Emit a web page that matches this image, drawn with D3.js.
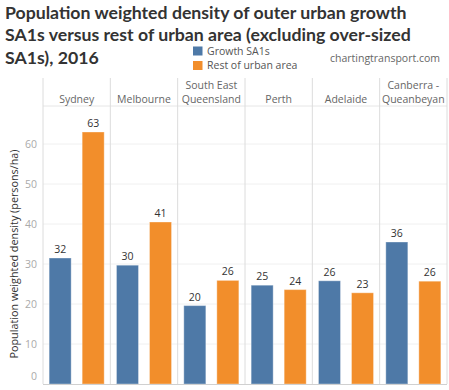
<!DOCTYPE html>
<html><head><meta charset="utf-8">
<script src="https://cdn.jsdelivr.net/npm/d3@7"></script>
<style>body{margin:0;background:#fff;} svg{display:block;}</style>
</head><body>
<svg id="c" width="449" height="390"></svg>
<script>
const titleLines = ["Population weighted density of outer urban growth", "SA1s versus rest of urban area (excluding over-sized", "SA1s), 2016"];
const cities = ["Sydney", "Melbourne", "South East\nQueensland", "Perth", "Adelaide", "Canberra -\nQueanbeyan"];
const seriesNames = ["Growth SA1s", "Rest of urban area"];
const growthValues = [31.5, 29.7, 19.6, 24.7, 25.8, 35.5];
const restValues = [63.0, 40.5, 25.9, 23.6, 22.8, 25.7];
const yTicks = [0, 10, 20, 30, 40, 50, 60];
const colors = ["#4e79a7", "#f28e2b"];
const yTitle = "Population weighted density (persons/ha)";
const source = "chartingtransport.com";

(function() {
const svg = d3.select("#c");
const font = "'Open Sans', sans-serif";
const fs = 10.5;
const pL = 43, pR = 447, pT = 106, pB = 384, headTop = 78;

const x0 = d3.scaleBand().domain(cities).range([pL, pR]).padding(0);
const x1 = d3.scaleBand().domain(seriesNames).range([0, x0.bandwidth()]).paddingInner(0.333).paddingOuter(0.186);
const y = d3.scaleLinear().domain([0, 69.5]).range([pB, pT]);

// title
const tt = svg.append("g").selectAll("text").data(titleLines).join("text")
  .attr("x", 5).attr("y", (d, i) => 18.8 + i * 22.6)
  .attr("font-family", "Lato, sans-serif").attr("font-weight", 700).attr("font-size", 18)
  .attr("fill", "#333").text(d => d);
const w0 = tt.nodes()[0].getComputedTextLength();
tt.attr("font-size", 18 * 402 / w0);

// legend
const lg = svg.append("g");
seriesNames.forEach((s, i) => {
  lg.append("rect").attr("x", 193).attr("y", 46.5 + i * 14.5).attr("width", 9.5).attr("height", 9).attr("fill", colors[i]);
  lg.append("text").attr("x", 207).attr("y", 51 + i * 14.5).attr("dy", "0.35em")
    .attr("font-family", font).attr("font-size", fs).attr("fill", "#555").text(s);
});
svg.append("text").attr("x", 440).attr("y", 58.5).attr("dy", "0.35em").attr("text-anchor", "end")
  .attr("font-family", font).attr("font-size", fs).attr("fill", "#666").text(source);

// gridlines
svg.append("g").selectAll("line").data(yTicks.filter(d => d > 0)).join("line")
  .attr("x1", pL).attr("x2", pR).attr("y1", d => y(d)).attr("y2", d => y(d))
  .attr("stroke", "#f0f0f0").attr("stroke-width", 1);

// header bottom line
svg.append("line").attr("x1", pL).attr("x2", pR).attr("y1", pT).attr("y2", pT).attr("stroke", "#e6e6e6");

// panel separators
const bounds = cities.map(c => x0(c)).concat([pR]);
svg.append("g").selectAll("line").data(bounds).join("line")
  .attr("x1", d => d).attr("x2", d => d).attr("y1", headTop).attr("y2", pB)
  .attr("stroke", "#dcdcdc").attr("stroke-width", 1);

// header labels
const hg = svg.append("g").selectAll("text").data(cities).join("text")
  .attr("x", d => x0(d) + x0.bandwidth() / 2).attr("text-anchor", "middle")
  .attr("font-family", font).attr("font-size", fs).attr("fill", "#666");
hg.each(function(d) {
  const lines = d.split("\n");
  const t = d3.select(this);
  lines.forEach((l, i) => {
    t.append("tspan").attr("x", x0(d) + x0.bandwidth() / 2)
      .attr("y", 99.5 - (lines.length - 1 - i) * 14.5).attr("dy", "0.35em").text(l);
  });
});

// y axis
const yAxis = d3.axisLeft(y).tickValues(yTicks).tickSize(0).tickPadding(6);
const ya = svg.append("g").attr("transform", `translate(${pL},0)`).call(yAxis);
ya.select(".domain").remove();
ya.selectAll("text").attr("font-family", font).attr("font-size", fs).attr("fill", "#aaa")
  .attr("y", d => d === 0 ? -8 : 0);

svg.append("text").attr("transform", "translate(14,254) rotate(-90)").attr("text-anchor", "middle")
  .attr("dy", "0.35em").attr("font-family", font).attr("font-size", 10.8).attr("fill", "#333").text(yTitle);

// bars
const data = [];
cities.forEach((c, i) => {
  data.push({city: c, s: seriesNames[0], v: growthValues[i], col: colors[0]});
  data.push({city: c, s: seriesNames[1], v: restValues[i], col: colors[1]});
});
svg.append("g").selectAll("rect").data(data).join("rect")
  .attr("x", d => x0(d.city) + x1(d.s)).attr("width", x1.bandwidth())
  .attr("y", d => y(d.v)).attr("height", d => y(0) - y(d.v))
  .attr("fill", d => d.col).attr("stroke", "#fff").attr("stroke-opacity", 0.35).attr("stroke-width", 1);

svg.append("g").selectAll("text").data(data).join("text")
  .attr("x", d => x0(d.city) + x1(d.s) + x1.bandwidth() / 2).attr("y", d => y(d.v) - 5)
  .attr("text-anchor", "middle").attr("font-family", font).attr("font-size", fs).attr("fill", "#333")
  .text(d => Math.round(d.v));

// bottom axis line
svg.append("line").attr("x1", pL).attr("x2", pR).attr("y1", pB + 0.5).attr("y2", pB + 0.5).attr("stroke", "#d0d0d0");
})();
</script>
</body></html>
